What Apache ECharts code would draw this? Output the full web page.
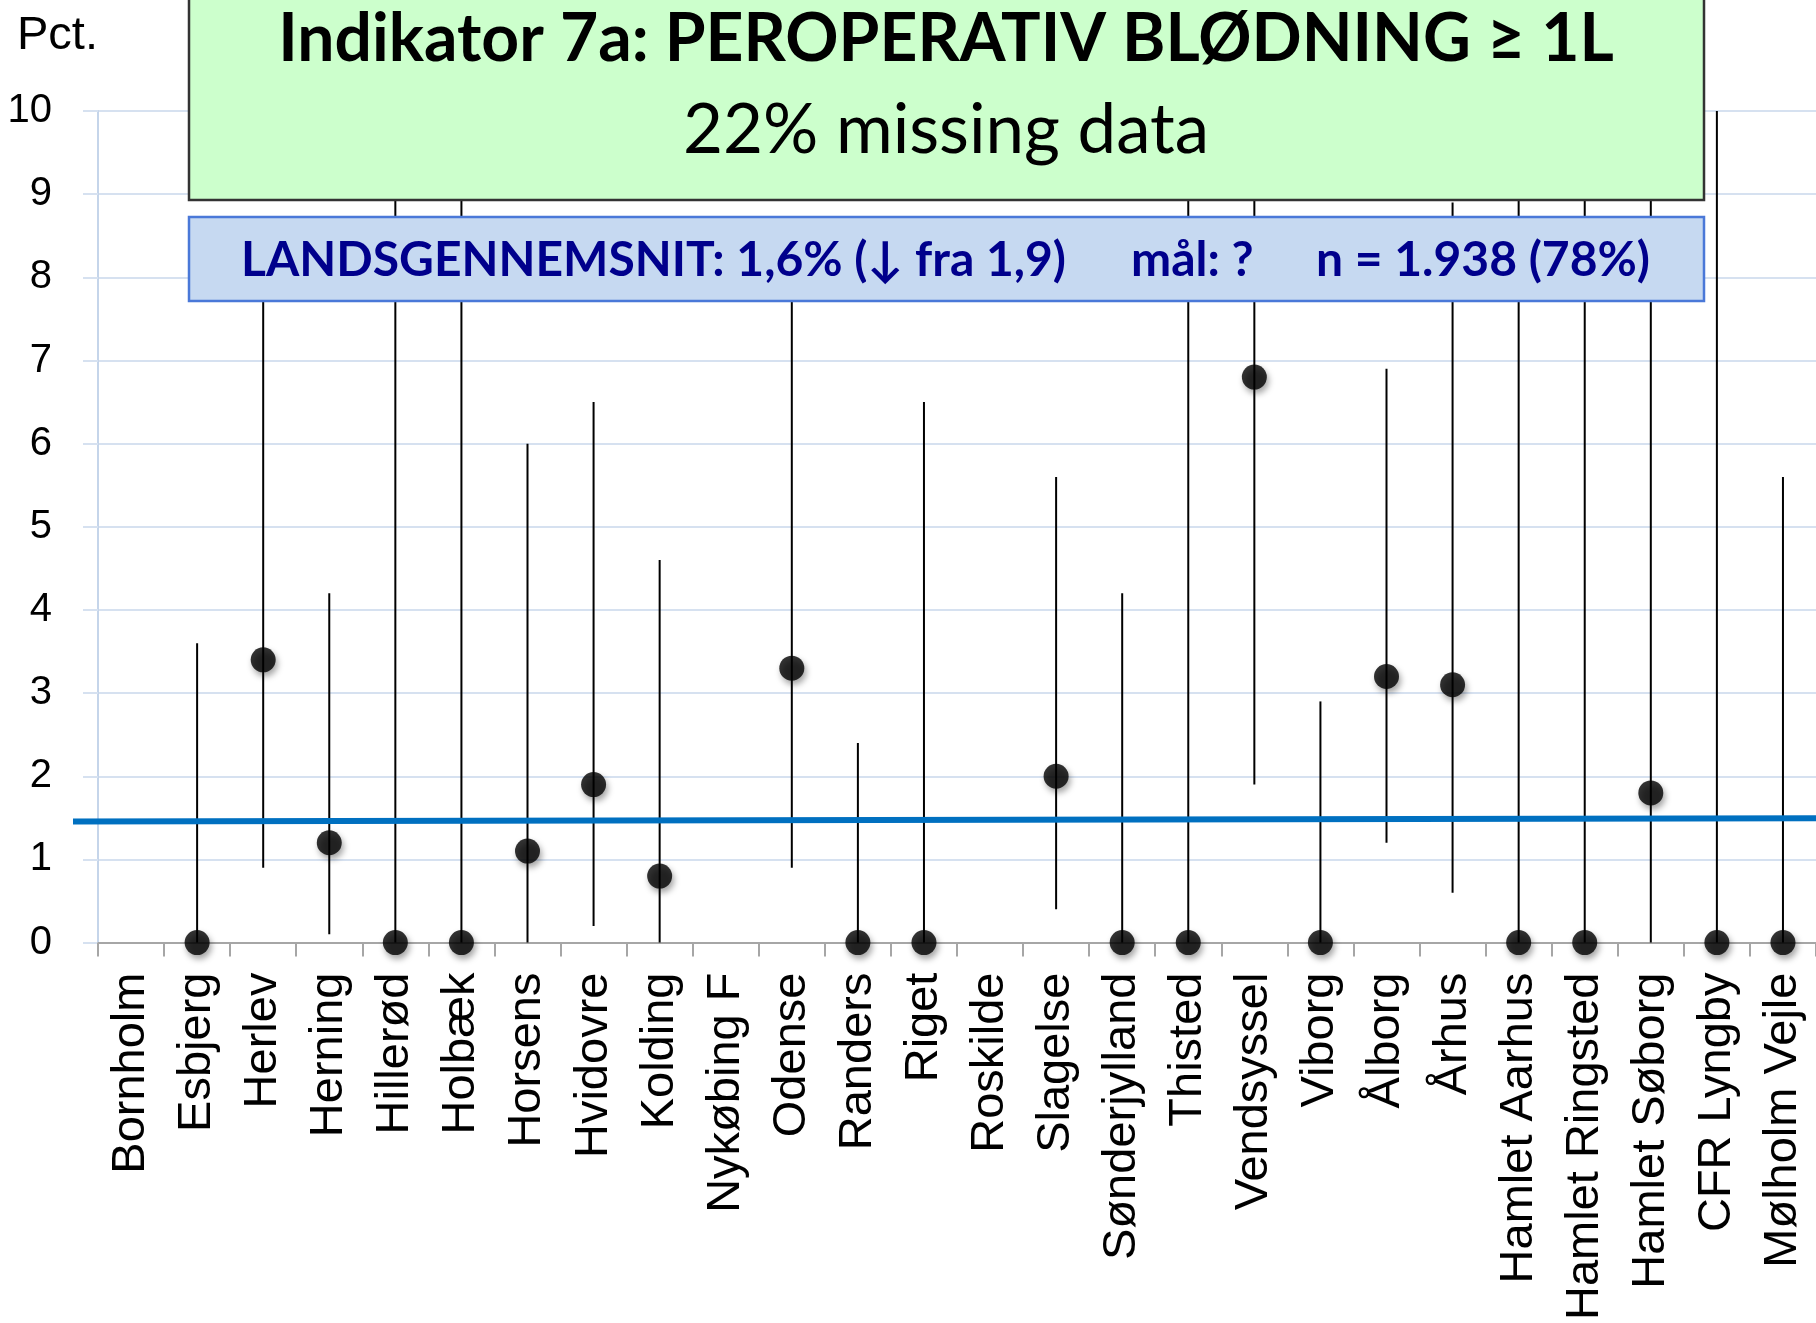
<!DOCTYPE html>
<html>
<head>
<meta charset="utf-8">
<script src="https://cdn.jsdelivr.net/npm/echarts@6/dist/echarts.min.js"></script>
<style>
  html, body { margin: 0; padding: 0; background: #fff; }
  #main { width: 1816px; height: 1323px; }
</style>
</head>
<body>
<div id="main"></div>
<script>
// Afdelinger
const categories = ['Bornholm', 'Esbjerg', 'Herlev', 'Herning', 'Hillerød', 'Holbæk', 'Horsens', 'Hvidovre',
  'Kolding', 'Nykøbing F', 'Odense', 'Randers', 'Riget', 'Roskilde', 'Slagelse', 'Sønderjylland', 'Thisted',
  'Vendsyssel', 'Viborg', 'Ålborg', 'Århus', 'Hamlet Aarhus', 'Hamlet Ringsted', 'Hamlet Søborg', 'CFR Lyngby',
  'Mølholm Vejle'];

// Andel (%) med blødning >= 1L, samt konfidensinterval
const rate  = [null, 0, 3.4, 1.2, 0, 0, 1.1, 1.9, 0.8, null, 3.3, 0, 0, null, 2.0, 0, 0, 6.8, 0, 3.2, 3.1, 0, 0, 1.8, 0, 0];
const lower = [null, 0, 0.9, 0.1, 0, 0, 0, 0.2, 0, null, 0.9, 0, 0, null, 0.4, 0, 0, 1.9, 0, 1.2, 0.6, 0, 0, 0, 0, 0];
const upper = [null, 3.6, 8.5, 4.2, 10, 10, 6.0, 6.5, 4.6, null, 8.5, 2.4, 6.5, null, 5.6, 4.2, 10, 10, 2.9, 6.9, 8.9, 10, 10, 10, 10, 5.6];

// Landsgennemsnit (linje, start/slut)
const avgLine = [[0, 1.46], [1, 1.50]];

const yTicks = [0, 10, 1];

const myChart = echarts.init(document.getElementById('main'));

const errData = categories.map((c, i) => [i, lower[i], upper[i]]).filter(d => d[1] !== null);
const pointData = categories.map((c, i) => [i, rate[i]]).filter(d => d[1] !== null);

const option = {
  animation: false,
  grid: [
    { left: 98, top: 111, width: 1720, height: 832 },
    // linjen starter lidt til venstre for aksen
    { left: 73, top: 111, width: 1745, height: 832 }
  ],
  xAxis: [
    {
      type: 'category',
      gridIndex: 0,
      data: categories,
      axisLine: { lineStyle: { color: '#A6A6A6', width: 2 } },
      axisTick: { show: true, length: 14, lineStyle: { color: '#A6A6A6', width: 2 } },
      axisLabel: {
        interval: 0, rotate: 90, margin: 30,
        fontFamily: 'Liberation Sans', fontSize: 47, color: '#000'
      },
      splitLine: { show: false }
    },
    { type: 'value', gridIndex: 1, min: 0, max: 1, show: false }
  ],
  yAxis: [
    {
      type: 'value', gridIndex: 0, min: yTicks[0], max: yTicks[1], interval: yTicks[2],
      axisLine: { show: true, lineStyle: { color: '#C5D5EA', width: 2 } },
      axisTick: { show: true, length: 15, lineStyle: { color: '#D6E1F0', width: 2 } },
      axisLabel: { margin: 46, fontFamily: 'Liberation Sans', fontSize: 40, color: '#000' },
      splitLine: { lineStyle: { color: '#D6E1F0', width: 2 } }
    },
    { type: 'value', gridIndex: 1, min: yTicks[0], max: yTicks[1], show: false }
  ],
  series: [
    {
      type: 'custom',
      xAxisIndex: 0,
      yAxisIndex: 0,
      data: errData,
      z: 2,
      renderItem: function (params, api) {
        const lo = api.coord([api.value(0), api.value(1)]);
        const hi = api.coord([api.value(0), api.value(2)]);
        return {
          type: 'line',
          shape: { x1: lo[0], y1: lo[1], x2: hi[0], y2: hi[1] },
          style: { stroke: '#000', lineWidth: 2 }
        };
      }
    },
    {
      type: 'line',
      xAxisIndex: 1,
      yAxisIndex: 1,
      data: avgLine,
      symbol: 'none',
      z: 3,
      lineStyle: { color: '#0070C0', width: 6 }
    },
    {
      type: 'scatter',
      xAxisIndex: 0,
      yAxisIndex: 0,
      data: pointData,
      symbolSize: 25,
      clip: false,
      z: 4,
      itemStyle: {
        color: '#000',
        shadowColor: 'rgba(0,0,0,0.45)', shadowBlur: 6, shadowOffsetX: 2, shadowOffsetY: 4
      }
    }
  ],
  graphic: [
    {
      type: 'text', left: 17, top: 13, z: 100,
      style: { text: 'Pct.', font: '47px "Liberation Sans"', fill: '#000' }
    },
    {
      type: 'group', z: 100,
      children: [
        {
          type: 'rect', shape: { x: 189, y: -10, width: 1515, height: 210 },
          style: { fill: '#CCFFCC', stroke: '#333', lineWidth: 2.5 }, z: 100
        },
        {
          type: 'text', z: 101,
          style: {
            x: 946, y: 7, text: 'Indikator 7a: PEROPERATIV BLØDNING ≥ 1L',
            font: 'bold 66px Lato', fill: '#000', align: 'center', verticalAlign: 'top'
          }
        },
        {
          type: 'text', z: 101,
          style: {
            x: 946, y: 96, text: '22% missing data',
            font: '69px Lato', fill: '#000', align: 'center', verticalAlign: 'top'
          }
        },
        {
          type: 'rect', shape: { x: 189, y: 217, width: 1515, height: 84 },
          style: { fill: '#C6D9F1', stroke: '#4A78D8', lineWidth: 2.5 }, z: 100
        },
        {
          type: 'text', z: 101,
          style: {
            x: 241, y: 237, text: 'LANDSGENNEMSNIT: 1,6% (↓ fra 1,9)',
            font: 'bold 48px Lato', fill: '#00008C', align: 'left', verticalAlign: 'top'
          }
        },
        {
          type: 'text', z: 101,
          style: {
            x: 1131, y: 237, text: 'mål: ?',
            font: 'bold 48px Lato', fill: '#00008C', align: 'left', verticalAlign: 'top'
          }
        },
        {
          type: 'text', z: 101,
          style: {
            x: 1650, y: 237, text: 'n = 1.938 (78%)',
            font: 'bold 48px Lato', fill: '#00008C', align: 'right', verticalAlign: 'top'
          }
        }
      ]
    }
  ]
};

myChart.setOption(option);

window.addEventListener('resize', function () {
  myChart.resize();
});
</script>
</body>
</html>
